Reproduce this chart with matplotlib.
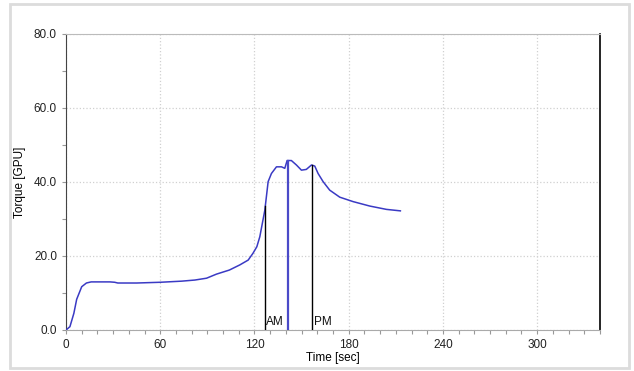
import matplotlib.pyplot as plt
from matplotlib.patches import Rectangle
from matplotlib.ticker import MultipleLocator

# torque curve
time_s = [0, 2.5, 5, 6.8, 10, 13, 16, 20, 28, 31, 33, 45, 60, 73.6, 82, 89.5, 95.8, 104,
          110.7, 116, 119, 121.5, 123.4, 126.6, 128.7, 130.8, 134, 137.2, 139.3, 140.8,
          143.5, 146.7, 149.9, 153, 156.3, 158.4, 160.5, 163.7, 167.9, 174.3, 182.8,
          193.4, 204, 212.9]
torque = [0, 0.9, 4.5, 8.3, 11.7, 12.7, 13.0, 13.0, 13.0, 12.9, 12.7, 12.7, 12.9, 13.2,
          13.5, 14.0, 15.1, 16.2, 17.6, 18.9, 20.7, 22.5, 25.2, 32.4, 40.1, 42.3, 44.1,
          44.1, 43.7, 45.8, 45.8, 44.6, 43.2, 43.4, 44.6, 44.3, 42.3, 40.1, 37.8, 35.9,
          34.7, 33.5, 32.6, 32.2]

markers = ['AM', '', 'PM']
marker_t = [126.6, 141.6, 156.9]
marker_v = [33.5, 45.8, 44.6]
marker_col = ['black', '#4a4ac8', 'black']

x_ticks = [0, 60, 120, 180, 240, 300]
y_ticks = [0, 20, 40, 60, 80]

W, H = 634, 371
fig = plt.figure(figsize=(W / 100, H / 100), dpi=100)
fig.patches.append(Rectangle((10 / W, 3 / H), 619 / W, 364 / H, transform=fig.transFigure,
                             fill=False, edgecolor='#dcdcdc', linewidth=2))
ax = fig.add_axes([66 / W, 41 / H, 534 / W, 296 / H])

ax.plot(time_s, torque, color='#3a3ac4', linewidth=1.1, zorder=3)
for lab, t, v, c in zip(markers, marker_t, marker_v, marker_col):
    ax.plot([t, t], [0, v], color=c, linewidth=1.6 if lab == '' else 1.0, zorder=4)
    if lab:
        ax.text(t + 0.8, 0.6, lab, fontsize=8.5, family='Liberation Sans', color='#111111',
                ha='left', va='bottom', zorder=5)

ax.set_xlim(0, 340)
ax.set_ylim(0, 80)
ax.set_xticks(x_ticks)
ax.set_yticks(y_ticks)
ax.set_yticklabels([f'{v:.1f}' for v in y_ticks])
ax.xaxis.set_minor_locator(MultipleLocator(10))
ax.yaxis.set_minor_locator(MultipleLocator(10))
ax.grid(True, which='major', color='#d0d0d0', linestyle=':', linewidth=0.9)
ax.tick_params(which='both', direction='out', colors='#999999', labelcolor='#222222',
               labelsize=8.5, width=0.8, length=3)
for lbl in ax.get_xticklabels() + ax.get_yticklabels():
    lbl.set_family('Liberation Sans')

ax.spines['left'].set_color('#444444')
ax.spines['bottom'].set_color('#aaaaaa')
ax.spines['top'].set_color('#bbbbbb')
ax.spines['right'].set_color('black')
ax.spines['right'].set_linewidth(1.2)

ax.set_xlabel('Time [sec]', fontsize=8.5, family='Liberation Sans', labelpad=1)
ax.set_ylabel('Torque [GPU]', fontsize=8.5, family='Liberation Sans', labelpad=6)

fig.savefig('out.png', dpi=100)
